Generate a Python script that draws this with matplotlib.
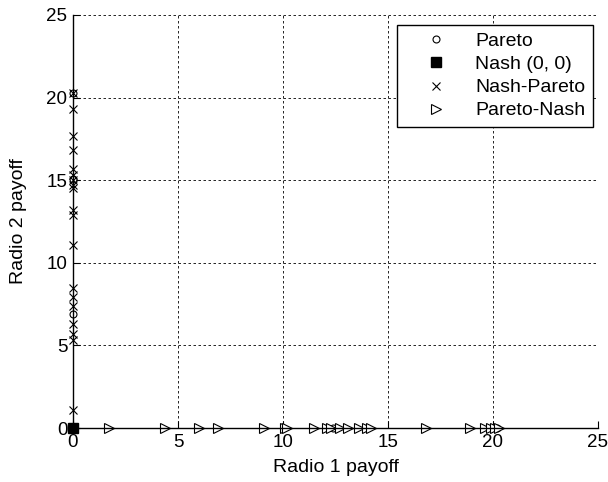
import matplotlib as mpl
mpl.use('Agg')
import matplotlib.pyplot as plt

plt.rcParams['font.family'] = ['Liberation Sans', 'DejaVu Sans']

# Pareto points (r1, r2)
pareto_x = [0, 0, 0, 12.4, 20.2]
pareto_y = [20.3, 15.1, 6.9, 0, 0]

# Nash point
nash_x = [0]
nash_y = [0]

# Nash-Pareto points lie on the radio 2 axis
np_y = [1.1, 5.3, 5.7, 6.3, 7.4, 7.9, 8.5, 11.1, 12.9, 13.2, 14.5, 14.7,
        15.0, 15.3, 15.7, 16.8, 17.7, 19.3, 20.3]
np_x = [0] * len(np_y)

# Pareto-Nash points lie on the radio 1 axis
pn_x = [1.7, 4.4, 6.0, 6.9, 9.1, 10.1, 10.2, 11.5, 12.1, 12.3, 12.7, 13.1,
        13.6, 14.0, 14.2, 16.8, 18.9, 19.6, 19.9, 20.1, 20.3]
pn_y = [0] * len(pn_x)

fig = plt.figure(figsize=(6.08, 4.82), dpi=100)
ax = fig.add_axes([0.120, 0.112, 0.8635, 0.857])

ax.plot(pareto_x, pareto_y, 'o', mfc='white', mec='black', ms=5, mew=0.8,
        clip_on=False, label='Pareto')
ax.plot(nash_x, nash_y, 's', mfc='black', mec='black', ms=7,
        clip_on=False, label='Nash (0, 0)')
ax.plot(np_x, np_y, 'x', color='black', ms=6, mew=0.8,
        clip_on=False, label='Nash-Pareto')
ax.plot(pn_x, pn_y, '>', mfc='white', mec='black', ms=7, mew=0.8,
        clip_on=False, label='Pareto-Nash')

ax.set_xlim(0, 25)
ax.set_ylim(0, 25)
ax.set_xticks([0, 5, 10, 15, 20, 25])
ax.set_yticks([0, 5, 10, 15, 20, 25])
ax.grid(True, color='black', linestyle=(0, (3, 3)), linewidth=0.6)
ax.set_axisbelow(True)
ax.spines['top'].set_visible(False)
ax.spines['right'].set_visible(False)
ax.spines['left'].set_linewidth(1.0)
ax.spines['bottom'].set_linewidth(1.0)
ax.tick_params(direction='in', length=5, width=0.8, labelsize=13.5,
               top=False, right=False, pad=4)

ax.set_xlabel('Radio 1 payoff', fontsize=14, labelpad=6)
ax.set_ylabel('Radio 2 payoff', fontsize=14, labelpad=14)

leg = ax.legend(loc='upper right', bbox_to_anchor=(0.9905, 0.976),
                fontsize=14, frameon=True, fancybox=False,
                edgecolor='black', framealpha=1, borderpad=0.4,
                labelspacing=0.28, handlelength=3.2, handletextpad=0.4,
                borderaxespad=0)
leg.get_frame().set_linewidth(1.0)

fig.savefig('out.png', dpi=100)
